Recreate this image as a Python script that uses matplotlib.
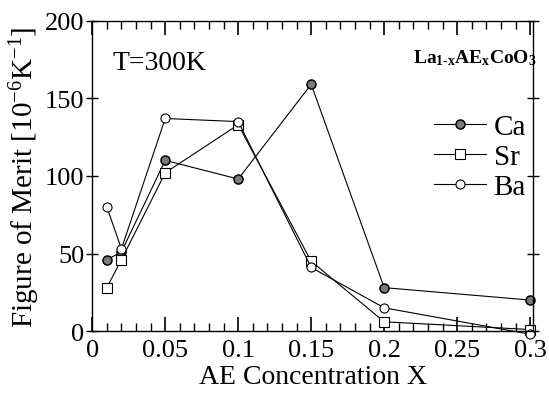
import matplotlib
matplotlib.use("Agg")
import matplotlib.pyplot as plt

plt.rcParams['font.family'] = 'Liberation Serif'
plt.rcParams['mathtext.fontset'] = 'custom'
plt.rcParams['mathtext.rm'] = 'Liberation Serif'
plt.rcParams['mathtext.it'] = 'Liberation Serif:italic'
plt.rcParams['mathtext.bf'] = 'Liberation Serif:bold'

# Figura de mérito a 300 K para La(1-x)AE(x)CoO3
conc_x = [0.01, 0.02, 0.05, 0.1, 0.15, 0.2, 0.3]
fm_ca = [46, 51, 110, 98, 159, 28, 20]
fm_sr = [28, 46, 102, 133, 45, 6, 1]
fm_ba = [80, 53, 137, 135, 41, 15, -2]

x_ticks = [0, 0.05, 0.1, 0.15, 0.2, 0.25, 0.3]
x_tick_labels = ['0', '0.05', '0.1', '0.15', '0.2', '0.25', '0.3']
x_minor = [i / 100 for i in range(31)]
y_ticks = [0, 50, 100, 150, 200]

fig = plt.figure(figsize=(5.49, 4.10), dpi=100)
ax = fig.add_axes([0.168, 0.19, 0.803, 0.757])

kw = dict(color='black', linewidth=0.8, markersize=6.5, clip_on=False)
ax.plot(conc_x, fm_ca, marker='o', markerfacecolor='#7a7a7a',
        markeredgecolor='black', markeredgewidth=1.1, label='Ca', **kw)
ax.plot(conc_x, fm_sr, marker='s', markerfacecolor='white',
        markeredgecolor='black', markeredgewidth=0.8, label='Sr', **kw)
ax.plot(conc_x, fm_ba, marker='o', markerfacecolor='white',
        markeredgecolor='black', markeredgewidth=0.8, label='Ba', **kw)

ax.set_xlim(0, 0.302)
ax.set_ylim(0, 200)
ax.set_xticks(x_ticks)
ax.set_xticklabels(x_tick_labels)
ax.set_xticks(x_minor, minor=True)
ax.set_yticks(y_ticks)

# marcas de x hacia dentro, arriba y abajo
ax.tick_params(axis='x', which='major', direction='in', top=True, bottom=True,
               length=10, width=1.2, labelsize=19, pad=6)
ax.tick_params(axis='x', which='minor', direction='in', top=True, bottom=True,
               length=6, width=1.0)
ax.tick_params(axis='y', which='major', direction='inout', right=True, left=True,
               length=9, width=1.0, labelsize=19, pad=1)

for s in ax.spines.values():
    s.set_linewidth(1.0)

ax.set_xlabel('AE Concentration X', fontsize=20, labelpad=2)
ax.set_ylabel('Figure of Merit [10$^{-6}$K$^{-1}$]', fontsize=21, labelpad=2)

ax.text(0.045, 0.845, 'T=300K', transform=ax.transAxes, fontsize=20)
ax.text(0.728, 0.865, r'$\mathbf{La}_{\mathbf{1\text{-}x}}\mathbf{AE}_{\mathbf{x}}\mathbf{CoO}_{\mathbf{3}}$',
        transform=ax.transAxes, fontsize=14)

ax.legend(loc='upper left', bbox_to_anchor=(0.775, 0.70), frameon=False,
          fontsize=21, handlelength=1.8, handletextpad=0.25,
          labelspacing=0.12, borderpad=0, borderaxespad=0)

fig.savefig('out.png', dpi=100)
